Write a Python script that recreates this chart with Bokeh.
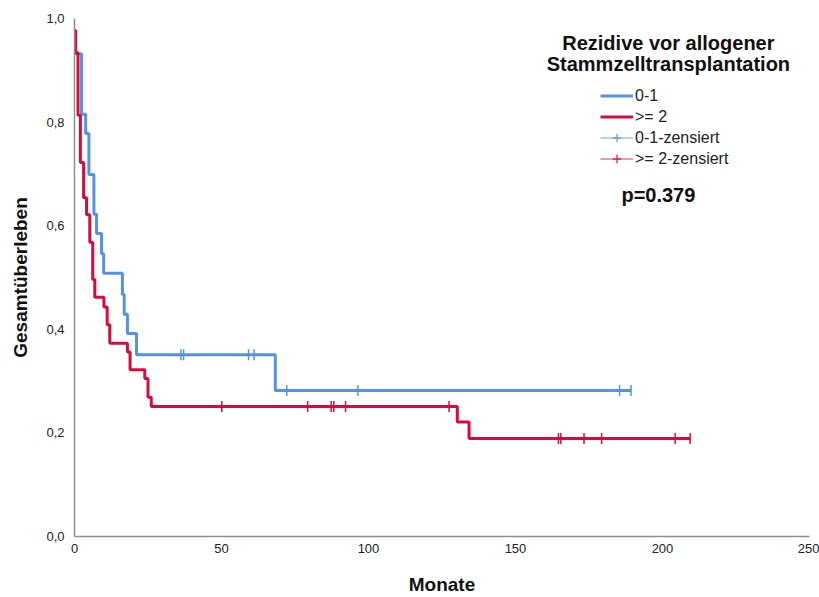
import numpy as np
from bokeh.plotting import figure
from bokeh.models import Range1d, FixedTicker, Legend, LegendItem, Label
from bokeh.embed import file_html
from bokeh.resources import INLINE

# ---- data (Kaplan-Meier steps) ----
blue_t = [0, 2.4, 3.8, 4.9, 6.6, 7.5, 9.2, 9.9, 16.3, 16.9, 18.0, 21.1, 68.3, 189.3]
blue_s = [0.932, 0.815, 0.778, 0.699, 0.622, 0.585, 0.546, 0.508, 0.467, 0.429, 0.392, 0.351, 0.282, 0.282]

red_t = [0, 0.4, 1.2, 2.0, 3.1, 4.1, 5.2, 6.2, 6.9, 10.0, 11.1, 12.0, 18.0, 18.9, 23.9, 25.0, 26.1,
         130.2, 134.2, 209.4]
red_s = [0.977, 0.934, 0.813, 0.722, 0.654, 0.621, 0.568, 0.496, 0.462, 0.443, 0.409, 0.373, 0.356,
         0.322, 0.305, 0.269, 0.251, 0.221, 0.189, 0.189]

blue_cens_t = [36.2, 37.1, 59.2, 61.1, 72.2, 96.4, 185.4, 189.3]
red_cens_t = [50.1, 79.3, 87.3, 88.2, 92.2, 127.4, 164.6, 165.4, 173.3, 179.3, 204.3, 209.4]

series_names = ["0-1", ">= 2", "0-1-zensiert", ">= 2-zensiert"]
legend_title = ["Rezidive vor allogener", "Stammzelltransplantation"]
p_value_text = "p=0.379"

x_ticks = [0, 50, 100, 150, 200, 250]
y_ticks = [0.0, 0.2, 0.4, 0.6, 0.8, 1.0]
y_tick_labels = ["0,0", "0,2", "0,4", "0,6", "0,8", "1,0"]

BLUE = "#5293E2"
RED = "#D60B3C"
FONT = "Liberation Sans"


def level_at(ts, ss, t):
    idx = np.searchsorted(np.array(ts), t, side="right") - 1
    return ss[int(idx)]


blue_cens_s = [level_at(blue_t, blue_s, t) for t in blue_cens_t]
red_cens_s = [level_at(red_t, red_s, t) for t in red_cens_t]

p = figure(width=819, height=597, x_range=Range1d(0, 250), y_range=Range1d(0, 1),
           output_backend="svg", toolbar_location=None,
           min_border_left=74, min_border_right=10, min_border_top=18, min_border_bottom=61)
p.xgrid.visible = False
p.ygrid.visible = False
p.outline_line_color = None
p.background_fill_color = "white"
p.border_fill_color = "white"

for ax in (p.xaxis[0], p.yaxis[0]):
    ax.axis_line_color = "#8f8f8f"
    ax.axis_line_width = 1.5
    ax.major_tick_out = 0
    ax.major_tick_in = 0
    ax.minor_tick_out = 0
    ax.minor_tick_in = 0
    ax.major_label_text_font = FONT
    ax.major_label_text_font_size = "13px"
    ax.major_label_text_color = "#222222"
    ax.axis_label_text_font = FONT
    ax.axis_label_text_font_style = "bold"
    ax.axis_label_text_font_size = "19px"
    ax.axis_label_text_color = "#111111"

p.xaxis.ticker = FixedTicker(ticks=x_ticks)
p.yaxis.ticker = FixedTicker(ticks=y_ticks)
p.yaxis.major_label_overrides = {v: l for v, l in zip(y_ticks, y_tick_labels)}
p.xaxis.axis_label = "Monate"
p.yaxis.axis_label = "Gesamtüberleben"
p.xaxis.major_label_standoff = 7
p.yaxis.major_label_standoff = 10
p.xaxis.axis_label_standoff = 18
p.yaxis.axis_label_standoff = 12

r_blue = p.step(blue_t, blue_s, mode="after", line_color=BLUE, line_width=3)
r_red = p.step(red_t, red_s, mode="after", line_color=RED, line_width=3)
p.scatter(blue_cens_t, blue_cens_s, marker="dash", angle=np.pi / 2, size=11,
          line_color=BLUE, line_width=1.5, fill_alpha=0)
p.scatter(red_cens_t, red_cens_s, marker="dash", angle=np.pi / 2, size=11,
          line_color=RED, line_width=1.5, fill_alpha=0)

# renderers without visible points, only used to draw the legend glyphs ("+" on a thin line)
nan = [np.nan]
r_bl = p.line(nan, nan, line_color=BLUE, line_width=1.5, line_alpha=0.55)
r_rl = p.line(nan, nan, line_color=RED, line_width=1.5, line_alpha=0.55)
r_bx = p.scatter(nan, nan, marker="cross", size=14, line_color=BLUE, line_width=1.5, line_alpha=0.8)
r_rx = p.scatter(nan, nan, marker="cross", size=14, line_color=RED, line_width=1.5, line_alpha=0.8)

legend = Legend(items=[
    LegendItem(label=series_names[0], renderers=[r_blue]),
    LegendItem(label=series_names[1], renderers=[r_red]),
    LegendItem(label=series_names[2], renderers=[r_bl, r_bx]),
    LegendItem(label=series_names[3], renderers=[r_rl, r_rx]),
], location=(526, 367), label_text_font=FONT, label_text_font_size="16px",
    label_text_color="#222222", glyph_width=33, glyph_height=21, label_height=21,
    spacing=0, padding=0, margin=0, border_line_color=None, background_fill_alpha=0,
    label_standoff=2)
p.add_layout(legend)

for i, txt in enumerate(legend_title):
    p.add_layout(Label(x=202.0, y=0.952 - 0.039 * i, text=txt, text_align="center",
                       text_baseline="middle", text_font=FONT, text_font_style="bold",
                       text_font_size="20px", text_color="#111111"))
p.add_layout(Label(x=198.6, y=0.660, text=p_value_text, text_align="center",
                   text_baseline="middle", text_font=FONT, text_font_style="bold",
                   text_font_size="20px", text_color="#111111"))

open("out.html", "w").write(file_html(p, INLINE))
